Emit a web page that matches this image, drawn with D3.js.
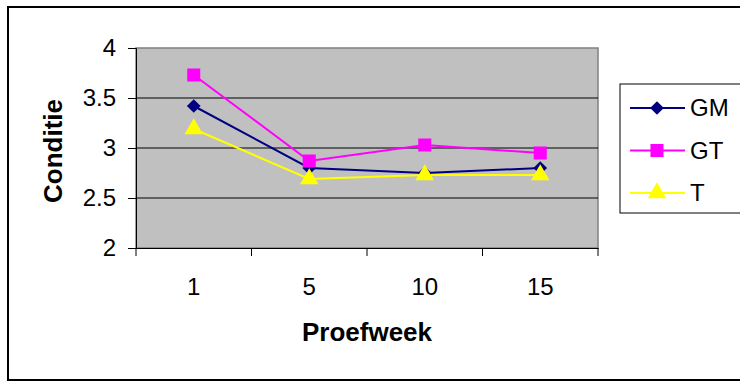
<!DOCTYPE html>
<html><head><meta charset="utf-8">
<script src="https://cdn.jsdelivr.net/npm/d3@7"></script>
<style>body{margin:0;background:#fff}svg{display:block}</style>
</head><body><svg id="c" width="740" height="381"></svg>
<script>
const categories = ["1", "5", "10", "15"];
const seriesNames = ["GM", "GT", "T"];
const GM = [3.42, 2.80, 2.75, 2.80];
const GT = [3.73, 2.87, 3.03, 2.95];
const T  = [3.19, 2.69, 2.73, 2.73];
const yTicks = [2, 2.5, 3, 3.5, 4];
const colors = ["#000080", "#FF00FF", "#FFFF00"];
const symbols = [d3.symbolDiamond2, d3.symbolSquare, d3.symbolTriangle];

const svg = d3.select("#c");
const font = "Liberation Sans, Arial, sans-serif";
// outer frame
svg.append("rect").attr("x", 8).attr("y", 7).attr("width", 760).attr("height", 373)
  .attr("fill", "#fff").attr("stroke", "#000").attr("stroke-width", 2);

const L = 136, R = 598, Tp = 48, B = 248;
const x = d3.scaleBand().domain(categories).range([L, R]);
const y = d3.scaleLinear().domain([2, 4]).range([B, Tp]);

svg.append("rect").attr("x", L).attr("y", Tp).attr("width", R - L).attr("height", B - Tp)
  .attr("fill", "#C0C0C0").attr("stroke", "#808080").attr("stroke-width", 1.5);

// gridlines
svg.append("g").selectAll("line").data(yTicks.slice(1, -1)).join("line")
  .attr("x1", L).attr("x2", R).attr("y1", d => y(d)).attr("y2", d => y(d))
  .attr("stroke", "#000").attr("stroke-width", 1);

// y axis
const ya = svg.append("g").attr("transform", `translate(${L},0)`)
  .call(d3.axisLeft(y).tickValues(yTicks).tickSize(8).tickPadding(12).tickFormat(d3.format("")));
ya.select(".domain").attr("stroke", "#000");
ya.selectAll("text").attr("font-family", font).attr("font-size", 24).attr("fill", "#000");

// x axis
const xa = svg.append("g").attr("transform", `translate(0,${B})`)
  .call(d3.axisBottom(x).tickSize(0).tickPadding(30));
xa.select(".domain").attr("stroke", "#000");
xa.selectAll("text").attr("font-family", font).attr("font-size", 24).attr("fill", "#000");
const edges = categories.map(c => x(c)).concat([R]);
svg.append("g").selectAll("line").data(edges).join("line")
  .attr("x1", d => d).attr("x2", d => d).attr("y1", B).attr("y2", B + 8)
  .attr("stroke", "#000");

// titles
svg.append("text").attr("x", (L + R) / 2).attr("y", 341).attr("text-anchor", "middle")
  .attr("font-family", font).attr("font-weight", "bold").attr("font-size", 26).text("Proefweek");
svg.append("text").attr("transform", `translate(62,${(Tp + B) / 2 + 3}) rotate(-90)`)
  .attr("text-anchor", "middle").attr("font-family", font).attr("font-weight", "bold")
  .attr("font-size", 26).text("Conditie");

const data = [GM, GT, T];
const cx = c => x(c) + x.bandwidth() / 2;
const line = d3.line().x((d, i) => cx(categories[i])).y(d => y(d));
const sizes = [120, 170, 150];
data.forEach((vals, s) => {
  svg.append("path").datum(vals).attr("d", line).attr("fill", "none")
    .attr("stroke", colors[s]).attr("stroke-width", 2);
});
data.forEach((vals, s) => {
  svg.append("g").selectAll("path").data(vals).join("path")
    .attr("transform", (d, i) => `translate(${cx(categories[i])},${y(d)})`)
    .attr("d", d3.symbol(symbols[s], sizes[s])).attr("fill", colors[s]);
});

// legend
const lg = svg.append("g");
lg.append("rect").attr("x", 620).attr("y", 84).attr("width", 140).attr("height", 129)
  .attr("fill", "#fff").attr("stroke", "#000").attr("stroke-width", 1);
seriesNames.forEach((n, i) => {
  const yy = 108 + i * 42.5;
  lg.append("line").attr("x1", 630).attr("x2", 685).attr("y1", yy).attr("y2", yy)
    .attr("stroke", colors[i]).attr("stroke-width", 2);
  lg.append("path").attr("transform", `translate(657,${yy})`)
    .attr("d", d3.symbol(symbols[i], sizes[i])).attr("fill", colors[i]);
  lg.append("text").attr("x", 690).attr("y", yy + 8).attr("font-family", font)
    .attr("font-size", 24).text(n);
});
</script></body></html>
